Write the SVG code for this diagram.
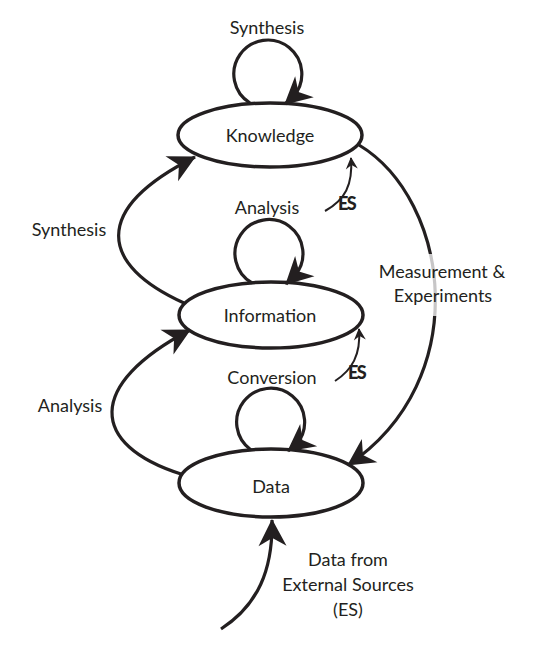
<svg xmlns="http://www.w3.org/2000/svg" width="542" height="654" viewBox="0 0 542 654">
<style>
.node{fill:#fff;stroke:#231f20;stroke-width:3.5}
.lbl{font-family:Lato,"Open Sans","Liberation Sans",sans-serif;font-size:18px;fill:#231f20;text-anchor:middle}
.es{font-family:Lato,"Liberation Sans",sans-serif;font-size:18px;font-weight:900;fill:#231f20;letter-spacing:-1.5px}
.edge{fill:none;stroke:#231f20;stroke-width:3.2}
.thin{fill:none;stroke:#231f20;stroke-width:2}
</style>
<defs>
<marker id="big" markerUnits="userSpaceOnUse" orient="auto" refX="0" refY="0" markerWidth="30" markerHeight="30" viewBox="-28 -15 30 30" overflow="visible">
<path d="M1,0 L-26,-14 L-18,0 L-26,14 Z" fill="#231f20"/>
</marker>
<marker id="small" markerUnits="userSpaceOnUse" orient="auto" refX="0" refY="0" markerWidth="14" markerHeight="14" viewBox="-12 -7 14 14" overflow="visible">
<path d="M1,0 L-11,-6 L-7,0 L-11,6 Z" fill="#231f20"/>
</marker>
</defs>
<g id="knowledge">
<ellipse class="node" cx="270" cy="135" rx="92" ry="32"/>
<text class="lbl" x="270" y="142">Knowledge</text>
</g>
<g id="information">
<ellipse class="node" cx="271" cy="315" rx="92" ry="33"/>
<text class="lbl" x="270" y="322">Information</text>
</g>
<g id="data">
<ellipse class="node" cx="271" cy="483" rx="92" ry="34"/>
<text class="lbl" x="271" y="493">Data</text>
</g>
<g id="connectors">
<path class="edge" d="M250,103 A34 34 0 1 1 293,96.9 L285,104" marker-end="url(#big)"/>
<path class="edge" d="M252,283 A34 34 0 1 1 295,275.4 L286,284" marker-end="url(#big)"/>
<path class="edge" d="M251,450 A34 34 0 1 1 296,444.9 L288,451" marker-end="url(#big)"/>
<path class="edge" d="M184,303 C100,265 90,210 195,157" marker-end="url(#big)"/>
<path class="edge" d="M181,474 C90,445 85,385 190,330" marker-end="url(#big)"/>
<path class="edge" d="M359,145 C450,200 475,380 348,465" marker-end="url(#big)"/>
<path class="edge" d="M221,629 C258,605 273,570 272,520" marker-end="url(#big)"/>
<path class="thin" d="M325,211 C345,200 353,185 351,158" marker-end="url(#small)"/>
<path class="thin" d="M335,381 C352,370 361,355 359,329" marker-end="url(#small)"/>
</g>
<g id="labels">
<text class="lbl" x="267" y="34">Synthesis</text>
<text class="lbl" x="267" y="214">Analysis</text>
<text class="lbl" x="272" y="384">Conversion</text>
<text class="lbl" x="69" y="236">Synthesis</text>
<text class="lbl" x="70" y="412">Analysis</text>
<rect x="372" y="254" width="138" height="62" fill="#fff" fill-opacity="0.75"/>
<text class="lbl" x="442" y="278">Measurement &amp;</text>
<text class="lbl" x="443" y="302">Experiments</text>
<text class="es" x="338" y="210">ES</text>
<text class="es" x="348" y="379">ES</text>
<text class="lbl" x="348" y="566">Data from</text>
<text class="lbl" x="348" y="591">External Sources</text>
<text class="lbl" x="348" y="616">(ES)</text>
</g>
</svg>
